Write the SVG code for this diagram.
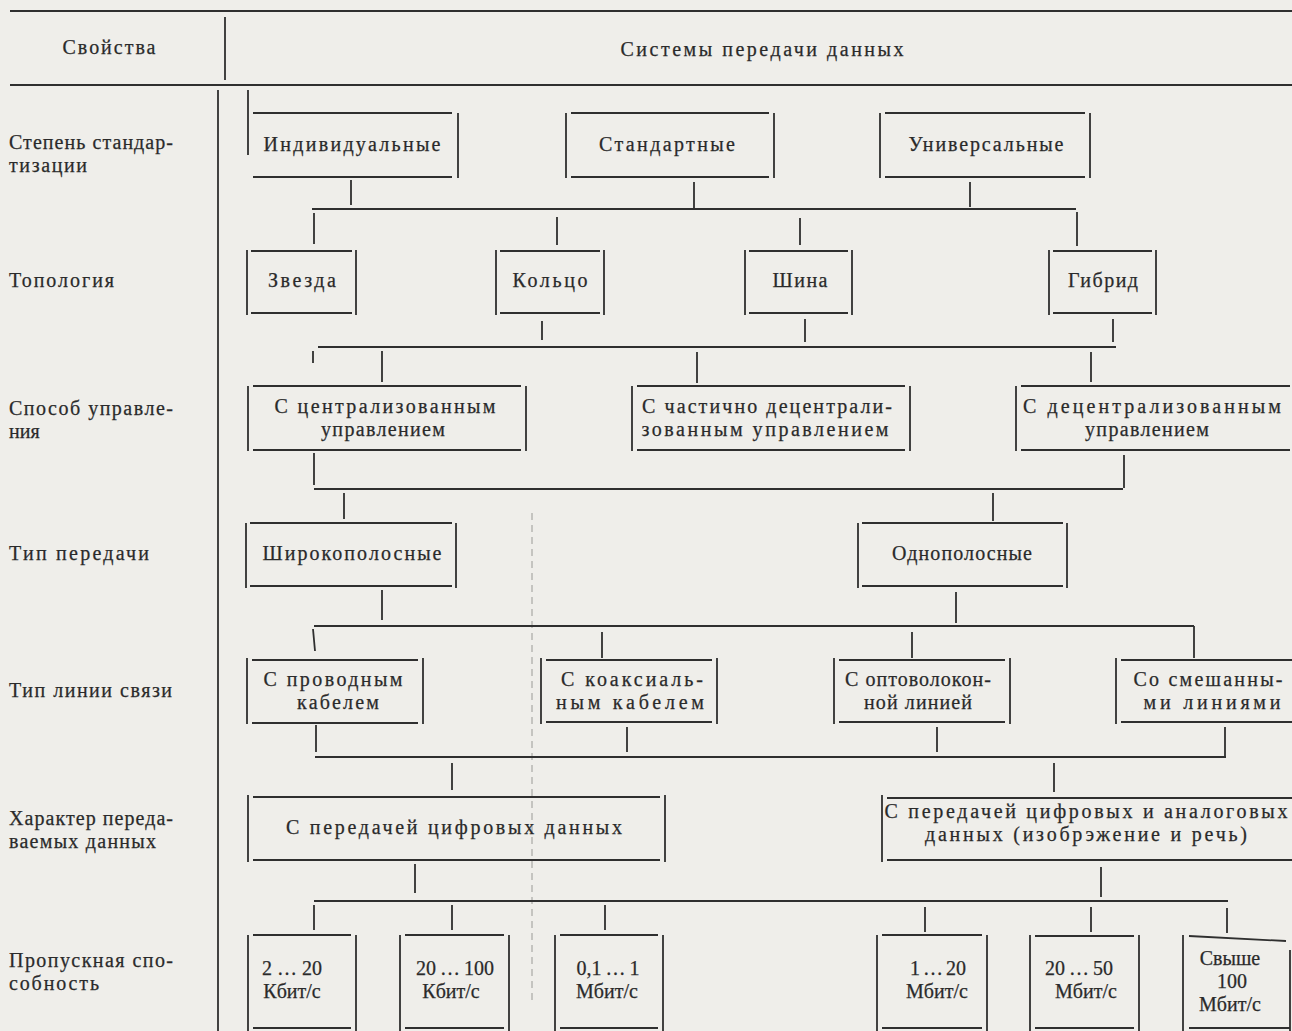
<svg xmlns="http://www.w3.org/2000/svg" width="1292" height="1031" viewBox="0 0 1292 1031">
<style>
.bg{fill:#efeeea}
.ln{stroke:#2f2f2f;stroke-width:1.8;fill:none}
.box{stroke:#2f2f2f;stroke-width:1.8;fill:none}
.faint{stroke:#9a9a96;stroke-width:1;fill:none;stroke-dasharray:7 5}
text{font-family:"Liberation Serif","Times New Roman",serif;font-size:20px;fill:#2a2a2a;stroke:#2a2a2a;stroke-width:0.25;text-anchor:middle}
text.l{text-anchor:start}
</style>
<rect class="bg" width="1292" height="1031"/>
<g id="table">
<path class="ln" d="M10 11H1292M225 17V80M10 85H1292M218 90V1031"/>
<path class="faint" d="M532 513V1000"/>
<text x="109" y="54" textLength="93">Свойства</text>
<text x="762" y="56" textLength="283">Системы передачи данных</text>
<text class="l" x="9" y="149" textLength="164">Степень стандар-</text>
<text class="l" x="9" y="172" textLength="78">тизации</text>
<text class="l" x="9" y="287" textLength="105">Топология</text>
<text class="l" x="9" y="415" textLength="164">Способ управле-</text>
<text class="l" x="9" y="438">ния</text>
<text class="l" x="9" y="560" textLength="140">Тип передачи</text>
<text class="l" x="9" y="697" textLength="163">Тип линии связи</text>
<text class="l" x="9" y="825" textLength="164">Характер переда-</text>
<text class="l" x="9" y="848" textLength="147">ваемых данных</text>
<text class="l" x="9" y="967" textLength="164">Пропускная спо-</text>
<text class="l" x="9" y="990" textLength="90">собность</text>
</g>
<g id="connectors">
<path class="ln" d="M351 180V205M694 182V208M970 182V207M312 209H1076M314 213V244M557 217V245M800 218V245M1077 212V246"/>
<path class="ln" d="M542 321V340M805 319V342M1113 319V342M318 347H1116M313 351V363M382 351V382M697 352V383M1091 352V382"/>
<path class="ln" d="M314 453V485M1124 455V488M314 489H1123M344 493V519M993 493V521"/>
<path class="ln" d="M382 590V620M956 592V623M314 626H1194M313 629L315 651M602 632V658M912 632V658M1194 626V658"/>
<path class="ln" d="M316 725V752M627 727V752M937 727V752M1225 727V757M315 757H1226M452 763V790M1054 763V792"/>
<path class="ln" d="M415 864V893M1101 867V897M314 901H1228M314 905V930M452 905V930M605 905V930M925 907V932M1091 907V932M1227 908V933"/>
</g>
<g id="n-individual"><path class="box" d="M248 90V155M458 113V178M253 113H452M253 177H452"/><text x="352" y="151" textLength="177">Индивидуальные</text></g>
<g id="n-standard"><path class="box" d="M566 113V178M774 113V178M571 113H769M571 177H769"/><text x="667" y="151" textLength="136">Стандартные</text></g>
<g id="n-universal"><path class="box" d="M880 113V178M1090 113V178M885 113H1085M885 177H1085"/><text x="986" y="151" textLength="155">Универсальные</text></g>
<g id="n-star"><path class="box" d="M247 250V315M356 250V315M251 251H352M251 313H352"/><text x="302" y="287" textLength="68">Звезда</text></g>
<g id="n-ring"><path class="box" d="M496 250V315M604 250V315M500 251H600M500 313H600"/><text x="550" y="287" textLength="75">Кольцо</text></g>
<g id="n-bus"><path class="box" d="M745 250V315M852 250V315M749 251H848M749 313H848"/><text x="800" y="287" textLength="55">Шина</text></g>
<g id="n-hybrid"><path class="box" d="M1049 250V315M1156 250V315M1053 251H1152M1053 313H1152"/><text x="1103" y="287" textLength="70">Гибрид</text></g>
<g id="n-central"><path class="box" d="M248 386V451M526 386V451M253 386H521M253 450H521"/><text x="385" y="413" textLength="221">С централизованным</text><text x="383" y="436" textLength="124">управлением</text></g>
<g id="n-partial"><path class="box" d="M632 386V451M910 386V451M637 386H905M637 450H905"/><text x="767" y="413" textLength="250">С частично децентрали-</text><text x="765" y="436" textLength="247">зованным управлением</text></g>
<g id="n-decentral"><path class="box" d="M1016 386V451M1021 386H1290M1021 450H1290"/><text x="1152" y="413" textLength="258">С децентрализованным</text><text x="1147" y="436" textLength="124">управлением</text></g>
<g id="n-wide"><path class="box" d="M246 523V588M456 523V588M250 523H452M250 586H452"/><text x="352" y="560" textLength="179">Широкополосные</text></g>
<g id="n-narrow"><path class="box" d="M858 523V588M1067 523V588M862 523H1063M862 586H1063"/><text x="962" y="560" textLength="140">Однополосные</text></g>
<g id="n-wired"><path class="box" d="M247 658V724M423 658V724M252 660H418M252 723H418"/><text x="333" y="686" textLength="139">С проводным</text><text x="338" y="709" textLength="82">кабелем</text></g>
<g id="n-coax"><path class="box" d="M541 658V724M717 658V724M546 660H712M546 722H712"/><text x="632" y="686" textLength="142">С коаксиаль-</text><text x="630" y="709" textLength="148">ным кабелем</text></g>
<g id="n-optic"><path class="box" d="M834 658V724M1010 658V724M839 660H1005M839 722H1005"/><text x="918" y="686" textLength="146">С оптоволокон-</text><text x="918" y="709" textLength="108">ной линией</text></g>
<g id="n-mixed"><path class="box" d="M1116 658V724M1121 660H1292M1121 722H1292"/><text x="1208" y="686" textLength="149">Со смешанны-</text><text x="1212" y="709" textLength="137">ми линиями</text></g>
<g id="n-digital"><path class="box" d="M248 795V862M665 795V862M253 797H660M253 860H660"/><text x="454" y="834" textLength="336">С передачей цифровых данных</text></g>
<g id="n-analog"><path class="box" d="M882 795V862M887 798H1292M887 860H1292"/><text x="1086" y="818" textLength="403">С передачей цифровых и аналоговых</text><text x="1086" y="841" textLength="322">данных (изобрэжение и речь)</text></g>
<g id="n-r1"><path class="box" d="M248 935V1031M356 935V1031M253 935H351M253 1028H351"/><text x="292" y="975">2<tspan dx="5">…</tspan><tspan dx="5">20</tspan></text><text x="292" y="998">Кбит/с</text></g>
<g id="n-r2"><path class="box" d="M400 935V1031M509 935V1031M405 935H504M405 1028H504"/><text x="455" y="975">20<tspan dx="4">…</tspan><tspan dx="4">100</tspan></text><text x="451" y="998">Кбит/с</text></g>
<g id="n-r3"><path class="box" d="M555 935V1031M663 935V1031M560 935H658M560 1028H658"/><text x="608" y="975">0,1<tspan dx="4">…</tspan><tspan dx="4">1</tspan></text><text x="607" y="998">Мбит/с</text></g>
<g id="n-r4"><path class="box" d="M877 935V1031M987 935V1031M882 935H982M882 1028H982"/><text x="938" y="975">1<tspan dx="3">…</tspan><tspan dx="3">20</tspan></text><text x="937" y="998">Мбит/с</text></g>
<g id="n-r5"><path class="box" d="M1030 935V1031M1139 935V1031M1035 936H1134M1035 1028H1134"/><text x="1079" y="975">20<tspan dx="4">…</tspan><tspan dx="4">50</tspan></text><text x="1086" y="998">Мбит/с</text></g>
<g id="n-r6"><path class="box" d="M1183 935V1031M1290 950V1031M1189 936L1286 941M1189 1028H1290"/><text x="1230" y="965">Свыше</text><text x="1232" y="988">100</text><text x="1230" y="1011">Мбит/с</text></g>
</svg>
